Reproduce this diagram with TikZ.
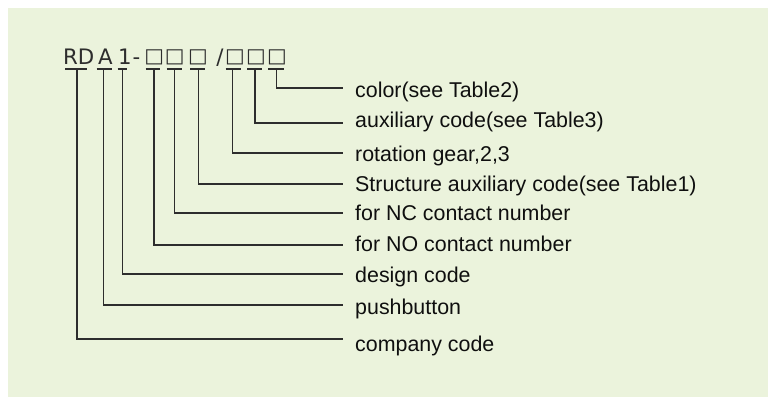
\documentclass[tikz,border=0pt]{standalone}
\usepackage{fontspec}
\setmainfont{Liberation Sans}
\newfontfamily\codefont{DejaVu Sans}
\definecolor{bgc}{RGB}{235,243,220}
\definecolor{ink}{RGB}{45,45,45}
\definecolor{txt}{RGB}{15,15,15}
\newcommand{\bx}{\raisebox{1.5pt}{\scalebox{0.98}[0.93]{□}}}
\begin{document}
\begin{tikzpicture}[x=1pt,y=-1pt,
  code/.style={inner sep=0pt,anchor=base,text=ink,font=\codefont\fontsize{21.3}{25}\selectfont},
  lab/.style={inner sep=0pt,anchor=base west,text=txt,font=\fontsize{21.4}{25}\selectfont},
  bar/.style={draw=ink,line width=2pt},
  lead/.style={draw=ink,line width=1.2pt}]
\useasboundingbox (0,0) rectangle (768,397);
\fill[bgc] (8,8) rectangle (768,397);
% code characters
\node[code] (cRD) at (78.7,64) {RD};
\node[code] (cA) at (105.3,64) {A};
\node[code] (c1) at (125,64) {1};
\node[code] (cdash) at (136.5,64) {-};
\node[code] (b1) at (154.3,64) {\bx};
\node[code] (b2) at (174.7,64) {\bx};
\node[code] (b3) at (198,64) {\bx};
\node[code] (cslash) at (220,64) {/};
\node[code] (b4) at (235,64) {\bx};
\node[code] (b5) at (256,64) {\bx};
\node[code] (b6) at (277,64) {\bx};
% underline bars
\draw[bar] (65,69) -- (87.3,69);
\draw[bar] (96.7,69) -- (111.7,69);
\draw[bar] (117.7,69) -- (127.3,69);
\draw[bar] (145.7,69) -- (160,69);
\draw[bar] (166.7,69) -- (181.7,69);
\draw[bar] (190,69) -- (205,69);
\draw[bar] (225.7,69) -- (240.7,69);
\draw[bar] (247.3,69) -- (262.3,69);
\draw[bar] (268.3,69) -- (284,69);
% bar anchors
\coordinate (vRD) at (76.7,69);
\coordinate (vA) at (103.3,69);
\coordinate (v1) at (122.3,69);
\coordinate (vb1) at (154,69);
\coordinate (vb2) at (174.3,69);
\coordinate (vb3) at (198.3,69);
\coordinate (vb4) at (232.7,69);
\coordinate (vb5) at (255,69);
\coordinate (vb6) at (276.7,69);
% line ends
\coordinate (e1) at (343,88);
\coordinate (e2) at (343,123);
\coordinate (e3) at (343,153);
\coordinate (e4) at (343,184);
\coordinate (e5) at (343,213);
\coordinate (e6) at (343,245);
\coordinate (e7) at (343,274);
\coordinate (e8) at (343,305);
\coordinate (e9) at (343,339);
% labels
\node[lab] (l1) at (355,97) {color(see Table2)};
\node[lab] (l2) at (355,127) {auxiliary code(see Table3)};
\node[lab] (l3) at (355,161) {rotation gear,2,3};
\node[lab] (l4) at (355,191) {Structure auxiliary code(see Table1)};
\node[lab] (l5) at (355,220) {for NC contact number};
\node[lab] (l6) at (355,251) {for NO contact number};
\node[lab] (l7) at (355,282) {design code};
\node[lab] (l8) at (355,314) {pushbutton};
\node[lab] (l9) at (355,351) {company code};
% leaders
\draw[lead] (vb6) |- (e1);
\draw[lead] (vb5) |- (e2);
\draw[lead] (vb4) |- (e3);
\draw[lead] (vb3) |- (e4);
\draw[lead] (vb2) |- (e5);
\draw[lead] (vb1) |- (e6);
\draw[lead] (v1) |- (e7);
\draw[lead] (vA) |- (e8);
\draw[lead,line width=1.6pt] (vRD) |- (e9);
\end{tikzpicture}
\end{document}
